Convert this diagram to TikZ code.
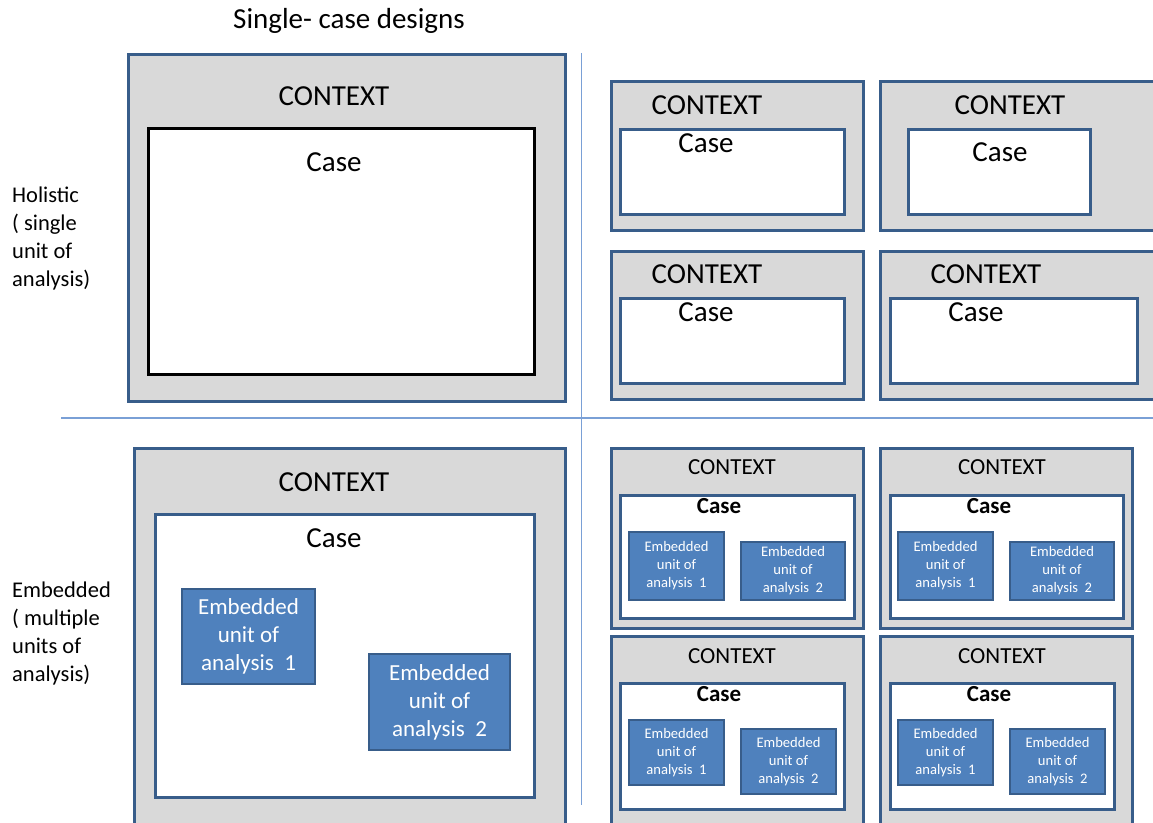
\documentclass[tikz,border=0pt]{standalone}
\usepackage{fontspec}
\setmainfont{Carlito}
\definecolor{boxblue}{RGB}{56,93,138}
\definecolor{ctxgray}{RGB}{217,217,217}
\definecolor{embblue}{RGB}{79,129,189}
\definecolor{lineblue}{RGB}{122,160,214}

\begin{document}
\begin{tikzpicture}[x=1pt, y=-1pt,
            ctxbox/.style={draw=boxblue, fill=ctxgray, line width=2.5pt, anchor=north west, inner sep=0pt},
            casebox/.style={draw=boxblue, fill=white, line width=2.5pt, anchor=north west, inner sep=0pt},
            holcase/.style={draw=black, fill=white, line width=3pt, anchor=north west, inner sep=0pt},
            embbox/.style={draw=boxblue, fill=embblue, line width=2pt, anchor=north west, inner sep=0pt, text=white, align=center},
            embbig/.style={embbox, font=\fontsize{23}{28}\selectfont},
            embsmall/.style={embbox, font=\fontsize{14.6}{18}\selectfont},
            bigtxt/.style={font=\fontsize{29}{34}\selectfont, inner sep=0pt},
            midtxt/.style={font=\fontsize{23}{28}\selectfont, inner sep=0pt},
            casetxt/.style={font=\fontsize{23}{28}\selectfont\bfseries, inner sep=0pt},
            sidetxt/.style={font=\fontsize{22.5}{28}\selectfont, align=left, anchor=north west, inner sep=0pt},
            divider/.style={draw=lineblue, line width=1.8pt}
        ]
            \useasboundingbox (0,0) rectangle (1153,822);

            % Title and row labels
            \node[bigtxt] (title) at (349,21) {Single- case designs};
            \node[sidetxt] (holistic) at (12,187) {Holistic\\( single\\unit of\\analysis)};
            \node[sidetxt] (embedded) at (12,582) {Embedded\\( multiple\\units of\\analysis)};

            % Dividers
            \coordinate (hl) at (61,418);
            \coordinate (hr) at (1153,418);
            \coordinate (vt) at (581.5,53);
            \coordinate (vb) at (581.5,805);
            \draw[divider] (hl) -- (hr);
            \draw[divider] (vt) -- (vb);

            % Holistic, single case
            \node[ctxbox, minimum width=437pt, minimum height=347pt] (ctxH) at (127,53) {};
            \node[holcase, minimum width=386pt, minimum height=246pt] (caseH) at (147,127) {};
            \node[bigtxt] (ctxHT) at (334,96) {CONTEXT};
            \node[bigtxt] (caseHT) at (334,162) {Case};

            % Holistic, multiple cases
            \node[ctxbox, minimum width=252pt, minimum height=149pt] (ctxA) at (610,80) {};
            \node[casebox, minimum width=224pt, minimum height=85pt] (caseA) at (619,128) {};
            \node[bigtxt] (ctxAT) at (707,105) {CONTEXT};
            \node[bigtxt] (caseAT) at (706,143) {Case};

            \node[ctxbox, minimum width=291pt, minimum height=149pt] (ctxB) at (879,80) {};
            \node[casebox, minimum width=182pt, minimum height=85pt] (caseB) at (907,128) {};
            \node[bigtxt] (ctxBT) at (1010,105) {CONTEXT};
            \node[bigtxt] (caseBT) at (1000,152) {Case};

            \node[ctxbox, minimum width=252pt, minimum height=148pt] (ctxC) at (610,250) {};
            \node[casebox, minimum width=224pt, minimum height=85pt] (caseC) at (619,297) {};
            \node[bigtxt] (ctxCT) at (707,274) {CONTEXT};
            \node[bigtxt] (caseCT) at (706,312) {Case};

            \node[ctxbox, minimum width=291pt, minimum height=148pt] (ctxD) at (879,250) {};
            \node[casebox, minimum width=247pt, minimum height=85pt] (caseD) at (889,297) {};
            \node[bigtxt] (ctxDT) at (986,274) {CONTEXT};
            \node[bigtxt] (caseDT) at (976,312) {Case};

            % Embedded, single case
            \node[ctxbox, minimum width=431pt, minimum height=393pt] (ctxS) at (133,447) {};
            \node[casebox, minimum width=379pt, minimum height=283pt] (caseS) at (154,513) {};
            \node[bigtxt] (ctxST) at (334,482) {CONTEXT};
            \node[bigtxt] (caseST) at (334,538) {Case};
            \node[embbig, minimum width=133pt, minimum height=95pt] (embS1) at (181,588) {Embedded\\unit of\\analysis~ 1};
            \node[embbig, minimum width=141pt, minimum height=96pt] (embS2) at (368,653) {Embedded\\unit of\\analysis~ 2};

            % Embedded, multiple cases
            \node[ctxbox, minimum width=252pt, minimum height=180pt] (ctxE) at (610,447) {};
            \node[casebox, minimum width=234pt, minimum height=123pt] (caseE) at (619,494) {};
            \node[midtxt] (ctxET) at (732,467) {CONTEXT};
            \node[casetxt] (caseET) at (719,506) {Case};
            \node[embsmall, minimum width=95pt, minimum height=68pt] (embE1) at (628,531) {Embedded\\unit of\\analysis~ 1};
            \node[embsmall, minimum width=104pt, minimum height=58pt] (embE2) at (740,541) {Embedded\\unit of\\analysis~ 2};

            \node[ctxbox, minimum width=252pt, minimum height=180pt] (ctxF) at (879,447) {};
            \node[casebox, minimum width=233pt, minimum height=123pt] (caseF) at (889,494) {};
            \node[midtxt] (ctxFT) at (1002,467) {CONTEXT};
            \node[casetxt] (caseFT) at (989,506) {Case};
            \node[embsmall, minimum width=95pt, minimum height=68pt] (embF1) at (897,531) {Embedded\\unit of\\analysis~ 1};
            \node[embsmall, minimum width=104pt, minimum height=58pt] (embF2) at (1009,541) {Embedded\\unit of\\analysis~ 2};

            \node[ctxbox, minimum width=252pt, minimum height=205pt] (ctxG) at (610,635) {};
            \node[casebox, minimum width=224pt, minimum height=126pt] (caseG) at (619,682) {};
            \node[midtxt] (ctxGT) at (732,656) {CONTEXT};
            \node[casetxt] (caseGT) at (719,694) {Case};
            \node[embsmall, minimum width=95pt, minimum height=65pt] (embG1) at (628,719) {Embedded\\unit of\\analysis~ 1};
            \node[embsmall, minimum width=95pt, minimum height=65pt] (embG2) at (740,728) {Embedded\\unit of\\analysis~ 2};

            \node[ctxbox, minimum width=252pt, minimum height=205pt] (ctxHH) at (879,635) {};
            \node[casebox, minimum width=224pt, minimum height=126pt] (caseHH) at (889,682) {};
            \node[midtxt] (ctxHHT) at (1002,656) {CONTEXT};
            \node[casetxt] (caseHHT) at (989,694) {Case};
            \node[embsmall, minimum width=95pt, minimum height=65pt] (embHH1) at (897,719) {Embedded\\unit of\\analysis~ 1};
            \node[embsmall, minimum width=95pt, minimum height=65pt] (embHH2) at (1009,728) {Embedded\\unit of\\analysis~ 2};

        \end{tikzpicture}
\end{document}
